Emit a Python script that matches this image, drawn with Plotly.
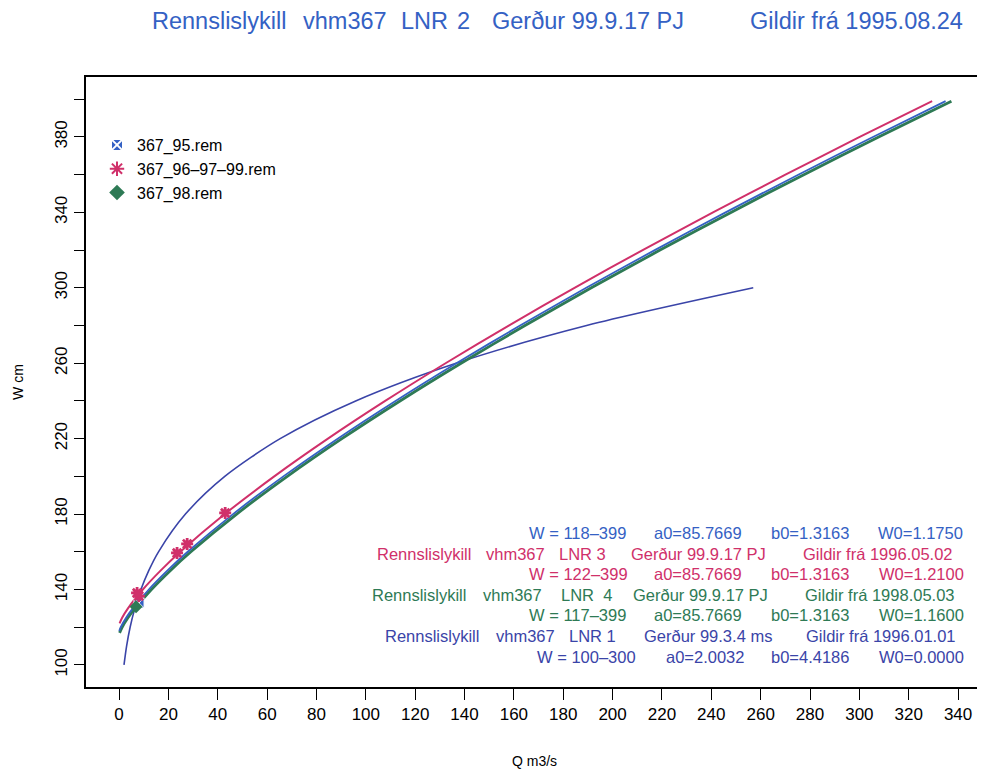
import plotly.graph_objects as go

# ---- data ----
# LNR 2 (blue): W=118-399
w_lnr2 = [118, 120, 125, 130, 140, 150, 160, 180, 200, 220, 240, 260, 280, 300, 320, 340, 360, 380, 399]
q_lnr2 = [0.08, 0.67, 2.84, 5.56, 12.04, 19.54, 27.81, 46.20, 66.58, 88.60, 112.03, 136.70, 162.51, 189.33, 217.10, 245.79, 275.24, 305.50, 334.94]
# LNR 3 (magenta): W=122-399
w_lnr3 = [122, 125, 130, 140, 150, 160, 180, 200, 220, 240, 260, 280, 300, 320, 340, 360, 380, 399]
q_lnr3 = [0.2, 1.24, 3.60, 9.64, 16.81, 24.83, 42.82, 62.89, 84.64, 107.84, 132.31, 157.92, 184.57, 212.18, 240.69, 270.03, 300.14, 329.49]
# LNR 4 (green): W=117-399
w_lnr4 = [117, 120, 125, 130, 140, 150, 160, 180, 200, 220, 240, 260, 280, 300, 320, 340, 360, 380, 399]
q_lnr4 = [0.2, 1.24, 3.60, 6.45, 13.11, 20.73, 29.11, 47.67, 68.18, 90.31, 113.84, 138.60, 164.49, 191.38, 219.22, 247.95, 277.49, 307.80, 337.30]
# LNR 1 (dark blue): W=100-300
w_lnr1 = [100, 110, 120, 130, 140, 150, 160, 180, 200, 220, 240, 260, 280, 300]
q_lnr1 = [2.00, 3.05, 4.48, 6.39, 8.86, 12.02, 15.98, 26.90, 42.84, 65.28, 95.89, 136.56, 189.47, 257.0]

# measurements
q_95 = [8.1]
w_95 = [132.9]
q_969799 = [7.3, 8.0, 23.5, 27.6, 43.0]
w_969799 = [138.2, 136.5, 159.4, 164.2, 180.6]
q_98 = [6.9]
w_98 = [130.8]

x_ticks = list(range(0, 341, 20))

title_parts = ["Rennslislykill", "vhm367", "LNR", "2", "Gerður 99.9.17 PJ", "Gildir frá 1995.08.24"]

C_BLUE = "#3461c4"
C_MAG = "#d0306a"
C_GREEN = "#2e7a55"
C_DBLUE = "#3a44a8"
FONT = "Liberation Sans, Arial, sans-serif"

info_rows = [
    (["W = 118\u2013399", "a0=85.7669", "b0=1.3163", "W0=1.1750"], C_BLUE),
    (["Rennslislykill", "vhm367", "LNR 3", "Gerður 99.9.17 PJ", "Gildir frá 1996.05.02"], C_MAG),
    (["W = 122\u2013399", "a0=85.7669", "b0=1.3163", "W0=1.2100"], C_MAG),
    (["Rennslislykill", "vhm367", "LNR  4", "Gerður 99.9.17 PJ", "Gildir frá 1998.05.03"], C_GREEN),
    (["W = 117\u2013399", "a0=85.7669", "b0=1.3163", "W0=1.1600"], C_GREEN),
    (["Rennslislykill", "vhm367", "LNR 1", "Gerður 99.3.4 ms", "Gildir frá 1996.01.01"], C_DBLUE),
    (["W = 100\u2013300", "a0=2.0032", "b0=4.4186", "W0=0.0000"], C_DBLUE),
]

# ---- layout helpers (screen pixel positions; page body has an 8px offset) ----
OFF = 8
info_cx = [
    [577.5, 698, 810, 920.5],
    [424, 515, 582.5, 698, 878],
    [578, 698, 810, 921],
    [419, 512.5, 586.5, 700, 880],
    [577.5, 698, 810, 921],
    [431.5, 525, 592.5, 708, 881],
    [586.5, 705, 810, 921],
]
title_x = [150, 301, 399, 455, 490, 748]

L, R, T, B = 86 - OFF, 983 - OFF, 77 - OFF, 687 - OFF
PW, PH = R - L, B - T


def px(x):
    return (x - OFF - L) / PW


def py(y):
    return 1 - (y - OFF - T) / PH


fig = go.Figure()

fig.add_trace(go.Scatter(x=q_lnr1, y=w_lnr1, mode="lines", line=dict(color=C_DBLUE, width=1.6, shape="spline", smoothing=0.8), showlegend=False, hoverinfo="skip"))
fig.add_trace(go.Scatter(x=q_lnr4, y=w_lnr4, mode="lines", line=dict(color=C_GREEN, width=2.8, shape="spline", smoothing=0.8), showlegend=False, hoverinfo="skip"))
fig.add_trace(go.Scatter(x=q_lnr2, y=w_lnr2, mode="lines", line=dict(color=C_BLUE, width=1.8, shape="spline", smoothing=0.8), showlegend=False, hoverinfo="skip"))
fig.add_trace(go.Scatter(x=q_lnr3, y=w_lnr3, mode="lines", line=dict(color=C_MAG, width=2, shape="spline", smoothing=0.8), showlegend=False, hoverinfo="skip"))

fig.add_trace(go.Scatter(x=q_95, y=w_95, mode="markers", name="367_95.rem",
                         marker=dict(symbol="square-x", size=10, color=C_BLUE, line=dict(color="white", width=1))))
fig.add_trace(go.Scatter(x=q_969799, y=w_969799, mode="markers", name="367_96\u201397\u201399.rem",
                         marker=dict(symbol="asterisk-open", size=10, color=C_MAG, line=dict(color=C_MAG, width=2.8))))
fig.add_trace(go.Scatter(x=q_98, y=w_98, mode="markers", name="367_98.rem",
                         marker=dict(symbol="diamond", size=10, color=C_GREEN)))

for r, (parts, col) in enumerate(info_rows):
    yy = 533 + r * 20.6
    for txt, xx in zip(parts, info_cx[r]):
        fig.add_annotation(xref="paper", yref="paper", x=px(xx), y=py(yy), text=txt,
                           showarrow=False, xanchor="center", yanchor="middle",
                           font=dict(family=FONT, size=16.5, color=col))

for txt, xx in zip(title_parts, title_x):
    fig.add_annotation(xref="paper", yref="paper", x=px(xx), y=py(21), text=txt,
                       showarrow=False, xanchor="left", yanchor="middle",
                       font=dict(family=FONT, size=23.5, color=C_BLUE))

fig.update_layout(
    width=985, height=772,
    margin=dict(l=L, r=985 - R, t=T, b=772 - B),
    paper_bgcolor="white", plot_bgcolor="white",
    font=dict(family=FONT, color="black"),
    legend=dict(x=px(97), y=py(128), xanchor="left", yanchor="top", bgcolor="rgba(0,0,0,0)",
                font=dict(family=FONT, size=16), tracegroupgap=0, itemsizing="constant"),
    showlegend=True,
)
fig.update_xaxes(range=[-13.4, 350.1], tickvals=x_ticks, ticktext=[str(v) for v in x_ticks],
                 ticks="outside", ticklen=11, tickwidth=1.4, tickcolor="black",
                 showline=True, linecolor="black", linewidth=1.6, mirror=True, automargin=False,
                 showgrid=False, zeroline=False, tickfont=dict(size=17),
                 title=dict(text="Q m3/s", font=dict(size=14), standoff=33))
fig.update_yaxes(range=[88.3, 411.8], tickmode="linear", tick0=100, dtick=40,
                 ticks="outside", ticklen=10, tickwidth=1.4, tickcolor="black", tickangle=-90,
                 minor=dict(tickmode="linear", tick0=100, dtick=20, ticks="outside", ticklen=10, tickwidth=1.4, tickcolor="black", showgrid=False),
                 showline=True, linecolor="black", linewidth=1.6, mirror=True, automargin=False,
                 showgrid=False, zeroline=False, tickfont=dict(size=17),
                 title=dict(text="W cm", font=dict(size=14), standoff=26))

fig.write_html("out.html")
